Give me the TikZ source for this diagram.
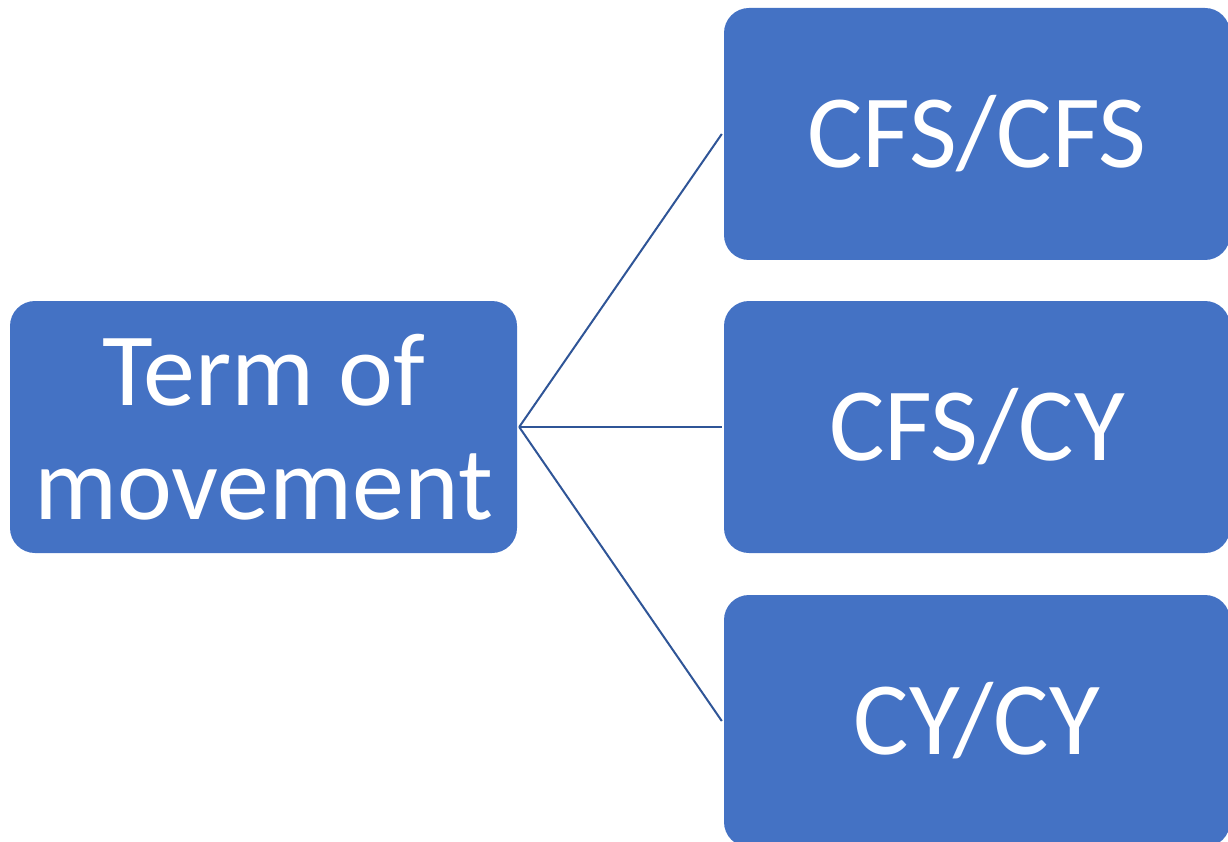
\documentclass[tikz,border=0pt]{standalone}
\usepackage{fontspec}
\setmainfont{Carlito}
\definecolor{boxblue}{HTML}{4472C4}
\definecolor{lineblue}{HTML}{2F5597}
\begin{document}
\begin{tikzpicture}[x=1pt,y=-1pt,
  blk/.style={rectangle, rounded corners=25pt, fill=boxblue, draw=none,
    minimum width=#1, minimum height=252pt, inner sep=0pt, text=white,
    font=\fontsize{104}{114}\selectfont, align=center},
  conn/.style={draw=lineblue, line width=2pt}]
\useasboundingbox (0,0) rectangle (1228,842);
\clip (0,0) rectangle (1228,842);
\node[blk=507pt] (term) at (263.5,427) {Term of\\movement};
\node[blk=506pt] (a) at (977,134) {CFS/CFS};
\node[blk=506pt] (b) at (977,427) {CFS/CY};
\node[blk=506pt] (c) at (977,721) {CY/CY};
\draw[conn] ([xshift=2pt]term.east) -- ([xshift=-2pt]a.west);
\draw[conn] ([xshift=2pt]term.east) -- ([xshift=-2pt]b.west);
\draw[conn] ([xshift=2pt]term.east) -- ([xshift=-2pt]c.west);
\end{tikzpicture}
\end{document}
